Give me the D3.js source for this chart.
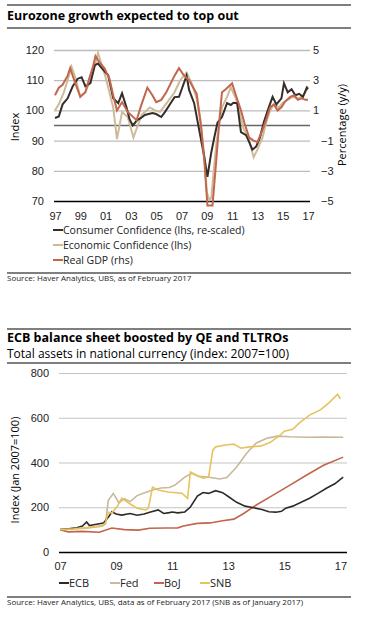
<!DOCTYPE html>
<html>
<head>
<meta charset="utf-8">
<script src="https://cdn.jsdelivr.net/npm/d3@7"></script>
<style>
body { margin: 0; background: #fff; }
svg { display: block; font-family: "Open Sans", sans-serif; }
</style>
</head>
<body>
<svg width="372" height="633"></svg>
<script>
// ---- chart 1 data (decimal year, value) ----
var consumer = [[1997.0,97.5],[1997.3,98],[1997.6,102],[1998.0,104],[1998.4,108],[1998.8,110.5],[1999.1,111],[1999.4,108],[1999.8,109],
  [2000.15,115],[2000.4,115.5],[2000.7,114],[2001.0,112.5],[2001.2,111.7],[2001.6,104],[2002.0,102.4],[2002.3,105.7],[2002.65,101],
  [2002.9,97],[2003.15,95],[2003.5,96.8],[2003.8,97.5],[2004.1,98.5],[2004.7,99.1],[2005.0,98.8],[2005.4,97.8],[2005.7,99.5],
  [2006.05,101.8],[2006.45,104.4],[2006.8,104.5],[2007.1,108],[2007.4,111.5],[2007.6,106.8],[2008.0,102.4],[2008.4,93.5],
  [2008.8,84.6],[2009.05,78],[2009.35,86],[2009.6,91.2],[2009.85,96],[2010.2,97.8],[2010.6,102.4],[2010.9,101.8],[2011.1,102.5],
  [2011.4,102.4],[2011.7,92.8],[2012.1,91.8],[2012.3,90],[2012.6,87],[2012.9,88],[2013.2,91],[2013.5,96],[2013.9,101],[2014.2,104.5],
  [2014.5,102],[2014.9,104],[2015.1,109],[2015.4,106],[2015.7,107],[2016.0,105],[2016.3,105.5],[2016.6,104.5],[2016.9,107.5],[2017.0,107]];
var economic = [[1997.0,100],[1997.3,102],[1997.7,106],[1998.0,110],[1998.3,114.5],[1998.6,111],[1999.0,104.5],[1999.4,106],
  [1999.8,110],[2000.1,114],[2000.4,119],[2000.7,115],[2001.0,111],[2001.3,106],[2001.6,101],[2001.9,90.5],[2002.3,99.5],
  [2002.75,97.8],[2003.2,91],[2003.85,98.5],[2004.5,101],[2004.9,100],[2005.3,99.5],[2005.9,102.8],[2006.45,106],[2006.9,110],
  [2007.4,112.5],[2007.8,109],[2008.2,104],[2008.5,97],[2008.8,85],[2009.0,73],[2009.2,70.3],[2009.35,71],[2009.75,89],
  [2010.2,101],[2010.6,104.5],[2010.9,107.7],[2011.1,105.7],[2011.3,104],[2011.6,99],[2011.9,94],[2012.3,91],[2012.7,84.5],[2013.0,87],
  [2013.4,91],[2013.7,96],[2014.0,100],[2014.3,102],[2014.7,101],[2015.0,102.5],[2015.4,103.5],[2015.8,104.5],[2016.2,104],
  [2016.5,104.5],[2016.8,106],[2017.0,108]];
var gdp = [[1997.0,2.0],[1997.3,2.5],[1997.6,2.7],[1998.0,3.3],[1998.2,3.8],[1998.6,2.8],[1999.0,1.9],[1999.4,2.2],[1999.7,3.1],
  [2000.0,3.9],[2000.2,4.6],[2000.5,4.2],[2000.9,3.8],[2001.3,3.1],[2001.6,2.0],[2001.9,1.0],[2002.3,1.55],[2002.75,0.9],
  [2003.45,0.35],[2003.8,1.3],[2004.3,2.5],[2004.7,2.0],[2005.0,1.55],[2005.4,1.7],[2005.8,2.2],[2006.45,3.3],[2006.8,3.8],
  [2007.2,3.3],[2007.6,3.0],[2008.2,2.1],[2008.55,-0.1],[2008.8,-2.3],[2009.05,-5.3],[2009.45,-5.3],[2009.75,-2.3],[2010.0,0.4],
  [2010.2,2.2],[2010.5,2.4],[2011.0,2.8],[2011.3,2.0],[2011.7,1.0],[2012.0,0.1],[2012.35,-0.8],[2012.7,-1.0],[2013.0,-1.1],
  [2013.4,-0.3],[2013.7,0.4],[2014.0,1.2],[2014.3,1.4],[2014.6,1.0],[2014.9,1.2],[2015.2,1.6],[2015.6,1.9],[2015.9,2.0],
  [2016.2,1.7],[2016.5,1.8],[2016.8,1.7],[2017.0,1.7]];
var lhsTicks = [70, 80, 90, 100, 110, 120];
var rhsTicks = [-5, -3, -1, 1, 3, 5];
var yearTicks1 = [1997,1999,2001,2003,2005,2007,2009,2011,2013,2015,2017];
var legend1 = ["Consumer Confidence (lhs, re-scaled)", "Economic Confidence (lhs)", "Real GDP (rhs)"];

// ---- chart 2 data ----
var ecb = [[2007.0,100],[2007.3,104],[2007.6,108],[2007.8,116],[2007.95,134],[2008.05,118],[2008.3,124],[2008.55,130],[2008.75,160],
  [2008.85,180],[2009.0,170],[2009.2,165],[2009.5,172],[2009.75,164],[2010.0,170],[2010.2,178],[2010.5,188],[2010.7,172],
  [2010.9,176],[2011.0,179],[2011.2,175],[2011.45,179],[2011.65,201],[2011.9,250],[2012.1,266],[2012.3,262],
  [2012.55,274],[2012.8,265],[2013.0,248],[2013.3,222],[2013.6,205],[2013.9,198],[2014.2,190],[2014.45,180],[2014.7,178],
  [2014.9,182],[2015.05,196],[2015.3,205],[2015.6,222],[2015.9,240],[2016.2,262],[2016.5,285],[2016.8,305],[2017.1,335]];
var fed = [[2007.0,100],[2007.5,103],[2008.0,107],[2008.5,115],[2008.62,125],[2008.72,230],[2008.9,262],[2009.1,220],[2009.3,238],
  [2009.5,225],[2009.75,252],[2010.0,264],[2010.3,277],[2010.6,286],[2010.9,288],[2011.1,299],[2011.45,335],[2011.7,352],
  [2011.95,338],[2012.25,335],[2012.7,326],[2012.95,333],[2013.3,380],[2013.65,440],[2014.0,487],[2014.4,509],[2014.75,518],
  [2015.2,515],[2015.8,513],[2016.4,514],[2017.1,513]];
var boj = [[2007.0,100],[2007.3,90],[2007.8,92],[2008.4,88],[2008.85,107],[2009.3,100],[2009.8,98],[2010.2,106],[2010.8,107],
  [2011.2,108],[2011.4,116],[2011.9,128],[2012.35,130],[2012.8,140],[2013.2,147],[2013.55,172],[2014.0,210],[2014.6,254],
  [2015.2,299],[2015.8,344],[2016.4,388],[2017.1,424]];
var snb = [[2007.0,100],[2007.5,104],[2008.0,110],[2008.5,118],[2008.62,130],[2008.72,178],[2008.85,174],[2009.05,205],[2009.2,241],
  [2009.45,219],[2009.75,196],[2010.05,188],[2010.15,196],[2010.3,290],[2010.5,277],[2010.85,268],[2011.35,263],[2011.55,240],
  [2011.65,357],[2011.85,344],[2012.1,330],[2012.3,335],[2012.45,455],[2012.55,470],[2012.9,478],[2013.2,482],[2013.45,464],
  [2013.75,470],[2014.15,473],[2014.5,490],[2014.85,522],[2015.0,540],[2015.3,548],[2015.55,578],[2015.9,612],[2016.3,636],
  [2016.6,668],[2016.9,705],[2017.0,685]];
var indexTicks = [0, 200, 400, 600, 800];
var yearTicks2 = [2007, 2009, 2011, 2013, 2015, 2017];
var legend2 = ["ECB", "Fed", "BoJ", "SNB"];

var svg = d3.select("svg");
var fmtYear = function(d) { return String(d).slice(2); };

function rule(y) {
  svg.append("line").attr("x1", 7).attr("x2", 351).attr("y1", y).attr("y2", y)
    .attr("stroke", "#000").attr("stroke-width", 1.2);
}

// ===== chart 1 =====
rule(5);
svg.append("text").attr("x", 7).attr("y", 20).style("font-size", "12.5px").style("font-weight", "bold")
  .text("Eurozone growth expected to top out");
rule(28);

var x1 = d3.scaleLinear().domain([1997, 2017]).range([55, 308]);
var yL = d3.scaleLinear().domain([70, 120]).range([201, 50]);
var yR = d3.scaleLinear().domain([-5, 5]).range([201, 50]);

var gL = svg.append("g").attr("transform", "translate(54,0)")
  .call(d3.axisLeft(yL).tickValues(lhsTicks).tickSize(-256).tickPadding(10));
gL.select(".domain").remove();
gL.selectAll("line").attr("stroke", function(d) { return d == 70 ? "#000" : "#bdbdbd"; })
  .attr("stroke-width", 1.3);
gL.selectAll("text").style("font-size", "11px").attr("fill", "#222");

// zero line for rhs
svg.append("line").attr("x1", 54).attr("x2", 310).attr("y1", yR(0)).attr("y2", yR(0))
  .attr("stroke", "#666").attr("stroke-width", 1.3);

var gR = svg.append("g").attr("transform", "translate(310,0)")
  .call(d3.axisRight(yR).tickValues(rhsTicks).tickSize(0).tickPadding(3));
gR.select(".domain").remove();
gR.selectAll("text").style("font-size", "11px").attr("fill", "#222")
  .attr("x", function(d) { return d < 0 ? 11 : 3; });

var gX1 = svg.append("g").attr("transform", "translate(0,201)")
  .call(d3.axisBottom(x1).tickValues(yearTicks1).tickSize(0).tickPadding(11).tickFormat(fmtYear));
gX1.select(".domain").remove();
gX1.selectAll("text").style("font-size", "11px").attr("fill", "#222");

svg.append("text").attr("transform", "translate(19,127) rotate(-90)").attr("text-anchor", "middle")
  .style("font-size", "11px").text("Index");
svg.append("text").attr("transform", "translate(346,125) rotate(-90)").attr("text-anchor", "middle")
  .style("font-size", "11px").text("Percentage (y/y)");

var lineL = d3.line().x(function(d) { return x1(d[0]); }).y(function(d) { return yL(d[1]); });
var lineR = d3.line().x(function(d) { return x1(d[0]); }).y(function(d) { return yR(d[1]); });
var col1 = ["#352d29", "#cdbb99", "#c2664d"];

svg.append("path").datum(economic).attr("d", lineL).attr("fill", "none").attr("stroke", col1[1]).attr("stroke-width", 2);
svg.append("path").datum(consumer).attr("d", lineL).attr("fill", "none").attr("stroke", col1[0]).attr("stroke-width", 2);
svg.append("path").datum(gdp).attr("d", lineR).attr("fill", "none").attr("stroke", col1[2]).attr("stroke-width", 2);

legend1.forEach(function(name, i) {
  var y = 230 + i * 15;
  svg.append("line").attr("x1", 53).attr("x2", 63).attr("y1", y).attr("y2", y)
    .attr("stroke", col1[i]).attr("stroke-width", 2);
  svg.append("text").attr("x", 63).attr("y", y + 4).style("font-size", "10.5px").attr("fill", "#222").text(name);
});

rule(273);
svg.append("text").attr("x", 7).attr("y", 281).style("font-size", "8px").attr("fill", "#222")
  .text("Source: Haver Analytics, UBS, as of February 2017");

// ===== chart 2 =====
rule(329);
svg.append("text").attr("x", 7).attr("y", 342).style("font-size", "12.5px").style("font-weight", "bold")
  .text("ECB balance sheet boosted by QE and TLTROs");
svg.append("text").attr("x", 7).attr("y", 358).style("font-size", "12px")
  .text("Total assets in national currency (index: 2007=100)");
rule(363);

var x2 = d3.scaleLinear().domain([2007, 2017.2]).range([60, 346]);
var y2 = d3.scaleLinear().domain([0, 800]).range([552, 373]);

var gY2 = svg.append("g").attr("transform", "translate(59,0)")
  .call(d3.axisLeft(y2).tickValues(indexTicks).tickSize(-288).tickPadding(10));
gY2.select(".domain").remove();
gY2.selectAll("line").attr("stroke", function(d) { return d == 0 ? "#000" : "#c4c4c4"; })
  .attr("stroke-width", function(d) { return d == 0 ? 1.3 : 1.2; });
gY2.selectAll("text").style("font-size", "11px").attr("fill", "#222");

var gX2 = svg.append("g").attr("transform", "translate(0,552)")
  .call(d3.axisBottom(x2).tickValues(yearTicks2).tickSize(0).tickPadding(10).tickFormat(fmtYear));
gX2.select(".domain").remove();
gX2.selectAll("text").style("font-size", "11px").attr("fill", "#222");

svg.append("text").attr("transform", "translate(19,470) rotate(-90)").attr("text-anchor", "middle")
  .style("font-size", "11px").text("Index (Jan 2007=100)");

var line2 = d3.line().x(function(d) { return x2(d[0]); }).y(function(d) { return y2(d[1]); });
var col2 = ["#2f2a27", "#c9b89d", "#c2654b", "#e6c35c"];
// draw order: BoJ, Fed, ECB, SNB on top
[[boj, 2], [fed, 1], [ecb, 0], [snb, 3]].forEach(function(p) {
  svg.append("path").datum(p[0]).attr("d", line2).attr("fill", "none")
    .attr("stroke", col2[p[1]]).attr("stroke-width", 1.6);
});

var legX = [59, 110, 154, 200];
legend2.forEach(function(name, i) {
  svg.append("line").attr("x1", legX[i]).attr("x2", legX[i] + 10).attr("y1", 583).attr("y2", 583)
    .attr("stroke", col2[i]).attr("stroke-width", 2);
  svg.append("text").attr("x", legX[i] + 10).attr("y", 587).style("font-size", "11px").attr("fill", "#222").text(name);
});

rule(597);
svg.append("text").attr("x", 7).attr("y", 605).style("font-size", "8px").attr("fill", "#222")
  .text("Source: Haver Analytics, UBS, data as of February 2017 (SNB as of January 2017)");
</script>
</body>
</html>
